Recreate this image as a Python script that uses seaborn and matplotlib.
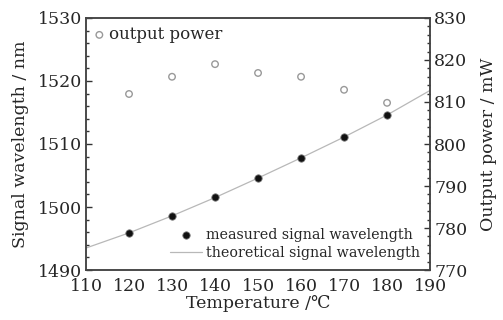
import numpy as np
import pandas as pd
import matplotlib
matplotlib.use('Agg')
import matplotlib.pyplot as plt
import seaborn as sns
from matplotlib.ticker import MultipleLocator

sns.set_style('white')
plt.rcParams['font.family'] = ['DejaVu Serif']
plt.rcParams['mathtext.fontset'] = 'dejavuserif'

# data
temperature = [120, 130, 140, 150, 160, 170, 180]
measured_wl = [1495.9, 1498.6, 1501.6, 1504.6, 1507.8, 1511.1, 1514.6]
output_power = [811.9, 816.0, 819.0, 816.9, 816.0, 812.9, 809.8]
theory_temp = [110, 120, 130, 140, 150, 160, 170, 180, 190]
theory_wl = [1493.5, 1495.9, 1498.6, 1501.5, 1504.6, 1507.8, 1511.1, 1514.6, 1518.5]

df = pd.DataFrame({'T': temperature, 'wl': measured_wl, 'P': output_power})
th = pd.DataFrame({'T': theory_temp, 'wl': theory_wl})

fig, ax = plt.subplots(figsize=(5.03, 3.2), dpi=100)
fig.subplots_adjust(left=0.171, right=0.855, top=0.944, bottom=0.156)
ax2 = ax.twinx()

sns.lineplot(data=th, x='T', y='wl', ax=ax, color='#b8b8b8', lw=0.9,
             label='theoretical signal wavelength', zorder=2)
sns.scatterplot(data=df, x='T', y='wl', ax=ax, color='#111111', s=28,
                edgecolor='#777777', linewidth=0.6,
                label='measured signal wavelength', zorder=3)
sns.scatterplot(data=df, x='T', y='P', ax=ax2, facecolor='none',
                edgecolor='#999999', linewidth=1.0, s=22, marker='o',
                label='output power')

ax.set_xlim(110, 190)
ax.set_ylim(1490, 1530)
ax2.set_ylim(770, 830)
ax.xaxis.set_major_locator(MultipleLocator(10))
ax.xaxis.set_minor_locator(MultipleLocator(2))
ax.yaxis.set_major_locator(MultipleLocator(10))
ax.yaxis.set_minor_locator(MultipleLocator(2))
ax2.yaxis.set_major_locator(MultipleLocator(10))
ax2.yaxis.set_minor_locator(MultipleLocator(2))

fs = 12.5
ax.tick_params(axis='both', which='major', direction='in', length=4, width=1,
               labelsize=fs, color='#333333', pad=3)
ax.tick_params(axis='x', which='major', pad=6)
ax.tick_params(axis='both', which='minor', direction='in', length=2.5, width=1,
               color='#333333')
ax.tick_params(axis='y', which='both', right=False)
ax2.tick_params(axis='y', which='major', direction='in', length=4, width=1,
                labelsize=fs, color='#333333', pad=3)
ax2.tick_params(axis='y', which='minor', direction='in', length=2.5, width=1,
                color='#333333')
for a in (ax, ax2):
    for sp in a.spines.values():
        sp.set_color('#444444')
        sp.set_linewidth(1.1)

ax.set_xlabel('Temperature /℃', fontsize=fs, labelpad=0)
ax.set_ylabel('Signal wavelength / nm', fontsize=fs, labelpad=6)
ax2.set_ylabel('Output power / mW', fontsize=fs, labelpad=9)

h, l = ax.get_legend_handles_labels()
ax.legend([h[1], h[0]], [l[1], l[0]], loc='lower right', frameon=False,
          fontsize=10.3, handlelength=2.2, handletextpad=0.3, labelspacing=0.3,
          borderaxespad=0.3)
ax2.legend(loc='upper left', frameon=False, fontsize=12, handlelength=0.6,
           handletextpad=0.3, borderaxespad=0.1)

fig.savefig('out.png', dpi=100)
